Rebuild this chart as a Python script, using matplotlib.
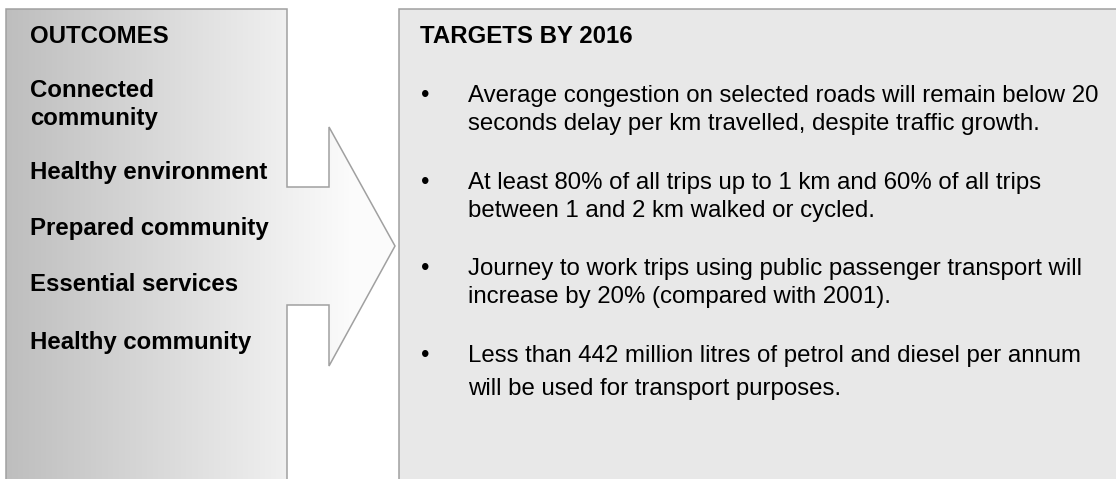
import numpy as np
import matplotlib
matplotlib.use("Agg")
import matplotlib.pyplot as plt
from matplotlib.patches import Polygon, Rectangle

plt.rcParams["font.family"] = ["Liberation Sans", "DejaVu Sans"]

# --- content ---
left_title = "OUTCOMES"
outcomes = [["Connected", "community"], ["Healthy environment"], ["Prepared community"],
            ["Essential services"], ["Healthy community"]]
right_title = "TARGETS BY 2016"
targets = [
    ["Average congestion on selected roads will remain below 20",
     "seconds delay per km travelled, despite traffic growth."],
    ["At least 80% of all trips up to 1 km and 60% of all trips",
     "between 1 and 2 km walked or cycled."],
    ["Journey to work trips using public passenger transport will",
     "increase by 20% (compared with 2001)."],
    ["Less than 442 million litres of petrol and diesel per annum",
     "will be used for transport purposes."],
]

# --- layout (pixels) ---
W, H = 1116, 479
PX = 0.72          # points per pixel at dpi 100
FS = 24 * PX
EDGE = "#A0A0A0"
outcome_base = [97, 179, 235, 291, 349]
target_base = [102, 189, 275, 362]
line_gap = [28, 28, 28, 33]

fig = plt.figure(figsize=(W / 100, H / 100), dpi=100)
ax = fig.add_axes([0, 0, 1, 1])
ax.set_xlim(0, W); ax.set_ylim(H, 0); ax.axis("off")

# right panel
ax.add_patch(Rectangle((399, 9), 800, 500, facecolor="#E8E8E8", edgecolor=EDGE, lw=1.1, zorder=1))

# left panel with arrow, gradient fill fading to near white
shape = [(6, 490), (6, 9), (287, 9), (287, 187), (329, 187), (329, 127), (395, 246),
         (329, 366), (329, 305), (287, 305), (287, 490)]
ax.add_patch(Polygon(shape, closed=True, facecolor="#FBFBFB", edgecolor="none", zorder=1.5))
ax.add_patch(Polygon(shape, closed=False, facecolor="none", edgecolor=EDGE, lw=1.1, zorder=3))
clip = Polygon(shape, closed=True, facecolor="none", edgecolor="none")
ax.add_patch(clip)
grad = np.linspace(0, 1, 256)[None, :]
cmap = matplotlib.colors.LinearSegmentedColormap.from_list("g", ["#BEBEBE", "#FBFBFB"])
im = ax.imshow(grad, cmap=cmap, extent=[6, 350, 490, 9], aspect="auto", zorder=2)
im.set_clip_path(clip)
ax.set_xlim(0, W); ax.set_ylim(H, 0)

# left text
ax.text(30, 43, left_title, fontsize=FS, fontweight="bold", va="baseline", zorder=4)
for lines, y in zip(outcomes, outcome_base):
    for k, ln in enumerate(lines):
        ax.text(30, y + 28 * k, ln, fontsize=FS, fontweight="bold", va="baseline", zorder=4)

# right text
ax.text(420, 43, right_title, fontsize=FS, fontweight="bold", va="baseline", zorder=4)
for lines, y, gap in zip(targets, target_base, line_gap):
    ax.text(425, y, "\u2022", fontsize=FS, ha="center", va="baseline", zorder=4)
    for k, ln in enumerate(lines):
        ax.text(468, y + gap * k, ln, fontsize=FS, va="baseline", zorder=4)

fig.savefig("out.png", dpi=100, facecolor="white")
